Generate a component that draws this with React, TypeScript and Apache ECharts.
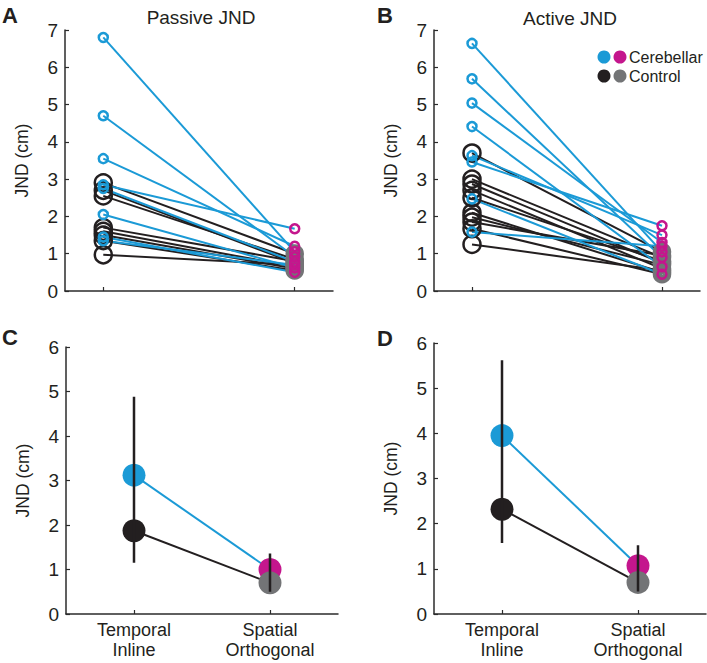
import React, { useEffect, useRef } from "react";
import * as echarts from "echarts";

// ---------- data ----------
const categories = ["Temporal\nInline", "Spatial\nOrthogonal"];

const passiveCerebellarTemporal = [6.8, 4.7, 3.55, 2.85, 2.75, 2.05, 1.45, 1.35];
const passiveCerebellarSpatial = [1.05, 0.92, 1.2, 1.67, 0.78, 0.62, 0.5, 0.7];
const passiveControlTemporal = [2.9, 2.7, 2.55, 1.7, 1.6, 1.5, 1.35, 0.97];
const passiveControlSpatial = [1.0, 0.75, 0.85, 0.8, 0.65, 0.6, 0.55, 0.7];

const activeCerebellarTemporal = [6.64, 5.69, 5.04, 4.41, 3.63, 3.46, 2.47, 1.58];
const activeCerebellarSpatial = [1.05, 0.9, 1.3, 0.65, 1.5, 1.75, 0.45, 1.2];
const activeControlTemporal = [3.7, 3.0, 2.87, 2.7, 2.5, 2.1, 1.98, 1.85, 1.67, 1.25];
const activeControlSpatial = [1.05, 0.9, 0.75, 0.6, 0.8, 0.5, 0.7, 0.95, 0.45, 0.55];

const passiveMeanCerebellar = [3.12, 1.0];
const passiveMeanControl = [1.87, 0.7];
const passiveErrTemporal = [1.15, 4.88];
const passiveErrSpatial = [0.5, 1.36];

const activeMeanCerebellar = [3.95, 1.07];
const activeMeanControl = [2.32, 0.7];
const activeErrTemporal = [1.57, 5.62];
const activeErrSpatial = [0.5, 1.52];

// ---------- styles ----------
const BLUE = "#1b9ad6";
const MAGENTA = "#c4168d";
const BLACK = "#231f20";
const GREY = "#737476";
const AXIS = "#2b2b2b";
const FONT = "Liberation Sans, Arial, sans-serif";

function xAxisFor(gridIndex: number, min: number, max: number, showLabels: boolean) {
  return {
    type: "value",
    gridIndex,
    min,
    max,
    splitLine: { show: false },
    axisLine: { show: true, lineStyle: { color: AXIS, width: 1.5 } },
    axisTick: { show: true, inside: true, length: 4, customValues: [1, 2], lineStyle: { color: AXIS, width: 1.2 } },
    axisLabel: {
      show: showLabels,
      customValues: [1, 2],
      formatter: (v: number) => categories[Math.round(v) - 1] ?? "",
      fontFamily: FONT,
      fontSize: 18,
      color: BLACK,
      lineHeight: 20,
      margin: 6,
    },
  };
}

function yAxisFor(gridIndex: number, max: number) {
  return {
    type: "value",
    gridIndex,
    min: 0,
    max,
    interval: 1,
    name: "JND (cm)",
    nameLocation: "middle",
    nameRotate: 90,
    nameGap: 34,
    nameTextStyle: { fontFamily: FONT, fontSize: 17.5, color: BLACK },
    splitLine: { show: false },
    axisLine: { show: true, lineStyle: { color: AXIS, width: 1.5 } },
    axisTick: { show: true, inside: true, length: 4, lineStyle: { color: AXIS, width: 1.2 } },
    axisLabel: { fontFamily: FONT, fontSize: 19, color: BLACK, margin: 7 },
  };
}

function subjectSeries(idx: number, t: number[], s: number[], lineColor: string, m1: any, m2: any) {
  return t.map((v, i) => ({
    type: "line",
    xAxisIndex: idx,
    yAxisIndex: idx,
    silent: true,
    symbol: "circle",
    lineStyle: { color: lineColor, width: 2 },
    data: [
      { value: [1, v], ...m1 },
      { value: [2, s[i]], ...m2 },
    ],
  }));
}

const hollow = (color: string, size: number, bw: number) => ({
  symbolSize: size,
  itemStyle: { color: "rgba(255,255,255,0)", borderColor: color, borderWidth: bw },
});
const filled = (color: string, size: number) => ({
  symbolSize: size,
  itemStyle: { color, borderWidth: 0 },
});

function meanSeries(idx: number, cer: number[], con: number[], errT: number[], errS: number[]) {
  const out: any[] = [];
  out.push({
    type: "line",
    xAxisIndex: idx,
    yAxisIndex: idx,
    symbol: "circle",
    lineStyle: { color: BLUE, width: 2 },
    data: [
      { value: [1, cer[0]], ...filled(BLUE, 23) },
      { value: [2, cer[1]], ...filled(MAGENTA, 23) },
    ],
    z: 2,
  });
  out.push({
    type: "line",
    xAxisIndex: idx,
    yAxisIndex: idx,
    symbol: "circle",
    lineStyle: { color: BLACK, width: 2 },
    data: [
      { value: [1, con[0]], ...filled(BLACK, 23) },
      { value: [2, con[1]], ...filled(GREY, 23) },
    ],
    z: 3,
  });
  [
    [1, errT],
    [2, errS],
  ].forEach(([x, e]: any) => {
    out.push({
      type: "line",
      xAxisIndex: idx,
      yAxisIndex: idx,
      symbol: "none",
      lineStyle: { color: BLACK, width: 2.5 },
      data: [
        [x, e[0]],
        [x, e[1]],
      ],
      z: 5,
    });
  });
  return out;
}

export default function App() {
  const ref = useRef<HTMLDivElement>(null);
  useEffect(() => {
    if (!ref.current) return;
    const chart = echarts.init(ref.current, undefined, { renderer: "svg" });

    const series: any[] = [
      ...subjectSeries(0, passiveControlTemporal, passiveControlSpatial, BLACK, hollow(BLACK, 17, 2.5), hollow(GREY, 15, 3.5)),
      ...subjectSeries(0, passiveCerebellarTemporal, passiveCerebellarSpatial, BLUE, hollow(BLUE, 9, 2.5), hollow(MAGENTA, 9, 2.5)),
      ...subjectSeries(1, activeControlTemporal, activeControlSpatial, BLACK, hollow(BLACK, 17, 2.5), hollow(GREY, 15, 3.5)),
      ...subjectSeries(1, activeCerebellarTemporal, activeCerebellarSpatial, BLUE, hollow(BLUE, 9, 2.5), hollow(MAGENTA, 9, 2.5)),
      ...meanSeries(2, passiveMeanCerebellar, passiveMeanControl, passiveErrTemporal, passiveErrSpatial),
      ...meanSeries(3, activeMeanCerebellar, activeMeanControl, activeErrTemporal, activeErrSpatial),
    ];

    const label = (text: string, x: number, y: number) => ({
      type: "text",
      x,
      y,
      style: { text, fontFamily: FONT, fontSize: 22, fontWeight: "bold", fill: BLACK, textVerticalAlign: "middle" },
    });
    const title = (text: string, x: number, y: number) => ({
      type: "text",
      x,
      y,
      style: { text, fontFamily: FONT, fontSize: 19, fill: BLACK, textAlign: "center", textVerticalAlign: "middle" },
    });
    const dot = (cx: number, cy: number, color: string) => ({
      type: "circle",
      shape: { cx, cy, r: 6.5 },
      style: { fill: color },
    });
    const legText = (text: string, x: number, y: number) => ({
      type: "text",
      x,
      y,
      style: { text, fontFamily: FONT, fontSize: 16, fill: BLACK, textVerticalAlign: "middle" },
    });

    chart.setOption({
      animation: false,
      backgroundColor: "#ffffff",
      grid: [
        { left: 65, top: 30, width: 268, height: 261 },
        { left: 434, top: 30, width: 266, height: 261 },
        { left: 66, top: 347, width: 272, height: 267 },
        { left: 434, top: 343, width: 272, height: 271 },
      ],
      xAxis: [
        xAxisFor(0, 0.8, 2.2, false),
        xAxisFor(1, 0.8, 2.2, false),
        xAxisFor(2, 0.5, 2.5, true),
        xAxisFor(3, 0.5, 2.5, true),
      ],
      yAxis: [yAxisFor(0, 7), yAxisFor(1, 7), yAxisFor(2, 6), yAxisFor(3, 6)],
      series,
      graphic: [
        label("A", 2, 15),
        label("B", 377, 15),
        label("C", 2, 337),
        label("D", 377, 338),
        title("Passive JND", 201, 17),
        title("Active JND", 570, 18),
        dot(604, 57, BLUE),
        dot(620, 57, MAGENTA),
        dot(604, 76, BLACK),
        dot(620, 76, GREY),
        legText("Cerebellar", 629, 57),
        legText("Control", 629, 76),
      ],
    });
    return () => chart.dispose();
  }, []);
  return (
    <div ref={ref} style={{ position: "fixed", left: 0, top: 0, width: 707, height: 663, background: "#fff" }} />
  );
}
